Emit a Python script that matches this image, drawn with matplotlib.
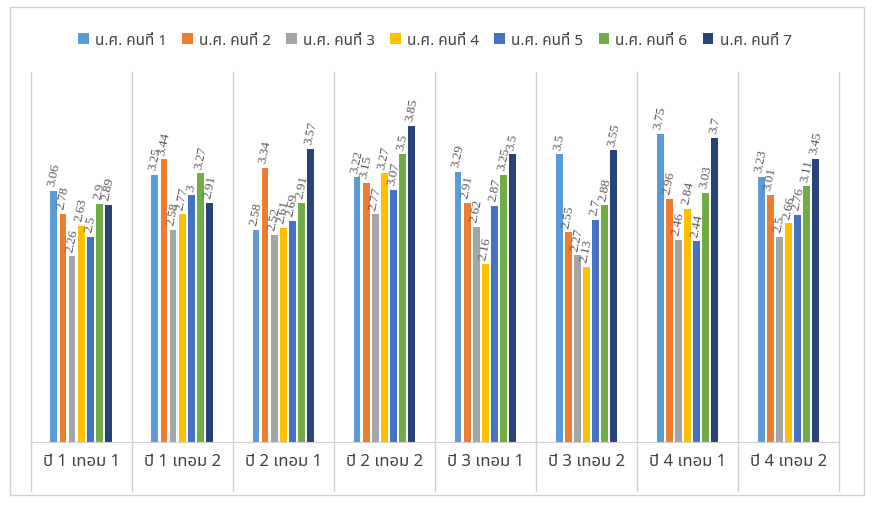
import matplotlib.pyplot as plt
import numpy as np

plt.rcParams['font.family'] = ['Noto Sans Thai', 'Noto Sans', 'DejaVu Sans']

categories = ['ปี 1 เทอม 1', 'ปี 1 เทอม 2', 'ปี 2 เทอม 1', 'ปี 2 เทอม 2',
              'ปี 3 เทอม 1', 'ปี 3 เทอม 2', 'ปี 4 เทอม 1', 'ปี 4 เทอม 2']
series_names = ['น.ศ. คนที่ 1', 'น.ศ. คนที่ 2', 'น.ศ. คนที่ 3', 'น.ศ. คนที่ 4',
                'น.ศ. คนที่ 5', 'น.ศ. คนที่ 6', 'น.ศ. คนที่ 7']
s1 = [3.06, 3.25, 2.58, 3.22, 3.29, 3.5, 3.75, 3.23]
s2 = [2.78, 3.44, 3.34, 3.15, 2.91, 2.55, 2.96, 3.01]
s3 = [2.26, 2.58, 2.52, 2.77, 2.62, 2.27, 2.46, 2.5]
s4 = [2.63, 2.77, 2.61, 3.27, 2.16, 2.13, 2.84, 2.66]
s5 = [2.5, 3, 2.69, 3.07, 2.87, 2.7, 2.44, 2.76]
s6 = [2.9, 3.27, 2.91, 3.5, 3.25, 2.88, 3.03, 3.11]
s7 = [2.89, 2.91, 3.57, 3.85, 3.5, 3.55, 3.7, 3.45]
series = [s1, s2, s3, s4, s5, s6, s7]
colors = ['#5B9BD5', '#ED7D31', '#A5A5A5', '#FFC000', '#4472C4', '#70AD47', '#264478']

fig = plt.figure(figsize=(8.74, 5.06), dpi=100)
fig.patches.append(plt.Rectangle((0.012, 0.02), 0.976, 0.965, transform=fig.transFigure,
                                 fill=False, edgecolor='#D0D0D0', lw=1))
ax = fig.add_axes([0.035, 0.125, 0.925, 0.73])
x = np.arange(len(categories))
w = 0.09
for i, (vals, c, name) in enumerate(zip(series, colors, series_names)):
    pos = x + (i - 3) * w
    ax.bar(pos, vals, w * 0.75, color=c, label=name)
    for p, v in zip(pos, vals):
        ax.text(p, v + 0.05, f'{v:g}', rotation=78, ha='center', va='bottom',
                fontsize=9.5, color='#595959', family=['Liberation Serif'])

ax.set_xlim(-0.5, len(categories) - 0.5)
ax.set_ylim(0, 4.5)
for b in np.arange(-0.5, len(categories), 1):
    ax.plot([b, b], [-0.6, 4.5], color='#D0D0D0', lw=1, clip_on=False)
ax.set_yticks([])
for s in ['top', 'right', 'left']:
    ax.spines[s].set_visible(False)
ax.spines['bottom'].set_color('#D0D0D0')
ax.set_xticks(x)
ax.set_xticklabels(categories, fontsize=12, color='#404040')
ax.tick_params(axis='x', length=0, pad=8)
ax.legend(loc='lower center', bbox_to_anchor=(0.5, 1.03), ncol=7, frameon=False,
          fontsize=11, handlelength=0.7, handleheight=0.7, columnspacing=1.0, handletextpad=0.4,
          labelcolor='#404040')
fig.savefig('out.png', dpi=100)
